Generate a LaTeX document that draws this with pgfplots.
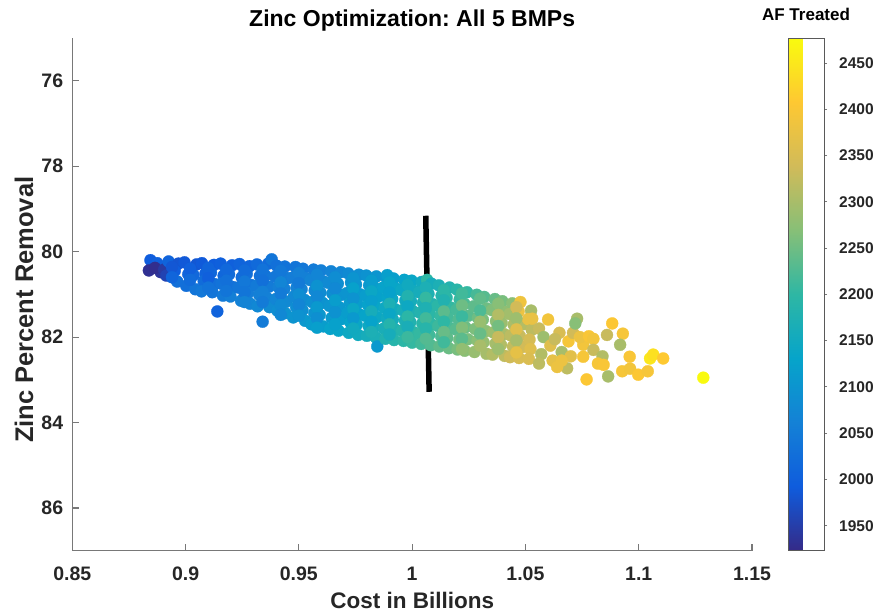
\documentclass[border=0pt]{standalone}
\usepackage{fontspec}
\setmainfont{Liberation Sans}
\usepackage{pgfplots}
\pgfplotsset{compat=1.18}
\frenchspacing

\definecolor{axgray}{RGB}{38,38,38}
\definecolor{lngray}{RGB}{120,120,120}

% parula-like colour map
\pgfplotsset{
  colormap={parula}{
    rgb255(0cm)=(53,42,135);
    rgb255(1cm)=(15,92,221);
    rgb255(2cm)=(20,129,214);
    rgb255(3cm)=(6,164,202);
    rgb255(4cm)=(46,183,164);
    rgb255(5cm)=(135,191,119);
    rgb255(6cm)=(209,187,89);
    rgb255(7cm)=(254,200,50);
    rgb255(8cm)=(249,251,14)
  }
}

% cost (billions), zinc removal (%), AF treated
\pgfplotstableread{
x y c
0.8845 80.20 1995
0.8838 80.44 1932
0.8875 80.27 2002
0.8890 80.48 1938
0.8865 80.38 1928
0.8905 80.42 1945
0.8925 80.23 2008
0.8915 80.56 1958
0.8968 80.28 1982
0.8952 80.45 1996
0.8963 80.70 2030
0.8995 80.25 1988
0.9012 80.53 2010
0.9003 80.80 2028
0.9048 80.30 1985
0.9035 80.55 2015
0.9043 80.88 2040
0.9072 80.27 1990
0.9088 80.51 2005
0.9080 80.69 2022
0.9070 80.93 2045
0.9125 80.31 1995
0.9112 80.49 2012
0.9128 80.76 2028
0.9118 80.95 2040
0.9155 80.28 1999
0.9168 80.56 2013
0.9158 80.75 2035
0.9165 81.03 2048
0.9140 81.40 2005
0.9205 80.32 2000
0.9192 80.53 2022
0.9210 80.83 2030
0.9198 81.05 2058
0.9238 80.29 2008
0.9248 80.60 2025
0.9232 80.84 2040
0.9245 81.15 2062
0.9282 80.34 2010
0.9270 80.52 2028
0.9290 80.78 2035
0.9276 80.97 2055
0.9285 81.22 2070
0.9315 80.30 2018
0.9328 80.57 2030
0.9312 80.80 2048
0.9325 81.01 2060
0.9318 81.28 2075
0.9340 81.64 2050
0.9365 80.28 2020
0.9352 80.56 2040
0.9368 80.82 2050
0.9358 81.08 2062
0.9370 81.30 2082
0.9380 80.18 2040
0.9402 80.33 2030
0.9395 80.59 2042
0.9410 80.83 2058
0.9398 81.11 2070
0.9405 81.38 2088
0.9438 80.35 2035
0.9450 80.62 2050
0.9436 80.87 2060
0.9445 81.17 2078
0.9440 81.44 2095
0.9485 80.36 2040
0.9472 80.61 2055
0.9490 80.84 2062
0.9478 81.05 2075
0.9488 81.30 2085
0.9475 81.54 2100
0.9518 80.40 2045
0.9530 80.62 2060
0.9512 80.88 2068
0.9525 81.13 2082
0.9516 81.37 2090
0.9528 81.62 2108
0.9565 80.42 2050
0.9552 80.67 2068
0.9570 80.91 2075
0.9558 81.18 2090
0.9568 81.44 2098
0.9555 81.70 2115
0.9598 80.44 2058
0.9610 80.70 2070
0.9595 80.96 2082
0.9605 81.20 2095
0.9592 81.48 2105
0.9608 81.75 2118
0.9642 80.46 2065
0.9630 80.73 2080
0.9648 80.98 2088
0.9635 81.27 2102
0.9645 81.55 2112
0.9638 81.81 2128
0.9685 80.48 2072
0.9672 80.75 2088
0.9690 81.01 2098
0.9678 81.30 2108
0.9688 81.58 2120
0.9675 81.85 2135
0.9718 80.51 2080
0.9730 80.72 2095
0.9712 80.97 2100
0.9725 81.20 2112
0.9715 81.43 2118
0.9728 81.66 2130
0.9720 81.90 2145
0.9765 80.54 2088
0.9752 80.77 2100
0.9770 81.00 2110
0.9758 81.22 2118
0.9768 81.47 2125
0.9755 81.71 2138
0.9762 81.95 2152
0.9798 80.56 2095
0.9810 80.79 2108
0.9795 81.03 2118
0.9805 81.25 2126
0.9792 81.50 2132
0.9808 81.74 2145
0.9800 81.97 2160
0.9842 80.58 2102
0.9830 80.82 2118
0.9848 81.06 2125
0.9835 81.28 2135
0.9845 81.53 2142
0.9832 81.77 2155
0.9840 82.01 2168
0.9846 82.22 2110
0.9885 80.60 2110
0.9872 80.84 2128
0.9890 81.08 2132
0.9878 81.32 2145
0.9888 81.56 2150
0.9875 81.80 2165
0.9882 82.04 2178
0.9890 80.55 2120
0.9918 80.63 2120
0.9930 80.87 2135
0.9912 81.11 2142
0.9925 81.35 2152
0.9915 81.59 2160
0.9928 81.83 2175
0.9920 82.07 2188
0.9965 80.66 2128
0.9952 80.90 2142
0.9970 81.14 2150
0.9958 81.37 2162
0.9968 81.61 2170
0.9955 81.85 2185
0.9962 82.09 2196
0.9998 80.68 2138
1.0010 80.92 2150
0.9995 81.16 2160
1.0005 81.40 2172
0.9992 81.65 2180
1.0008 81.89 2195
1.0000 82.13 2205
1.0042 80.71 2150
1.0030 80.95 2160
1.0048 81.19 2172
1.0035 81.43 2182
1.0045 81.68 2192
1.0032 81.92 2205
1.0040 82.16 2215
1.0066 80.66 2200
1.0085 80.75 2160
1.0072 80.99 2175
1.0090 81.23 2182
1.0078 81.47 2195
1.0088 81.71 2200
1.0075 81.95 2215
1.0082 82.19 2228
1.0118 80.79 2170
1.0130 81.03 2185
1.0112 81.27 2195
1.0125 81.50 2205
1.0115 81.74 2212
1.0128 81.98 2225
1.0120 82.22 2238
1.0165 80.84 2182
1.0152 81.08 2195
1.0170 81.31 2205
1.0158 81.55 2218
1.0168 81.79 2222
1.0155 82.02 2238
1.0162 82.26 2248
1.0198 80.89 2192
1.0210 81.12 2208
1.0195 81.36 2218
1.0205 81.59 2228
1.0192 81.82 2232
1.0208 82.06 2250
1.0200 82.29 2258
1.0242 80.95 2205
1.0230 81.22 2225
1.0248 81.50 2235
1.0235 81.77 2248
1.0245 82.05 2260
1.0232 82.32 2272
1.0285 81.01 2220
1.0272 81.28 2238
1.0290 81.55 2250
1.0278 81.81 2262
1.0288 82.08 2272
1.0275 82.35 2285
1.0318 81.06 2232
1.0330 81.33 2250
1.0312 81.59 2262
1.0325 81.86 2275
1.0315 82.12 2285
1.0328 82.39 2298
1.0365 81.11 2245
1.0352 81.37 2265
1.0370 81.63 2275
1.0358 81.89 2290
1.0368 82.15 2298
1.0355 82.41 2310
1.0398 81.16 2258
1.0410 81.41 2278
1.0395 81.67 2288
1.0405 81.93 2302
1.0392 82.18 2310
1.0408 82.44 2322
1.0442 81.21 2272
1.0430 81.46 2295
1.0448 81.71 2302
1.0435 81.96 2318
1.0445 82.22 2325
1.0432 82.47 2338
1.0478 81.18 2385
1.0470 81.40 2380
1.0490 81.70 2312
1.0475 81.97 2330
1.0488 82.23 2340
1.0472 82.49 2350
1.0525 81.38 2300
1.0512 81.58 2375
1.0528 81.83 2320
1.0518 82.06 2345
1.0522 82.28 2360
1.0515 82.51 2352
0.8940 80.36 1985
0.8940 80.60 2010
0.9020 80.40 2000
0.9020 80.66 2020
0.9100 80.38 2008
0.9100 80.62 2000
0.9100 80.84 2035
0.9180 80.42 2015
0.9180 80.68 2030
0.9180 80.92 2040
0.9260 80.44 2020
0.9260 80.70 2045
0.9260 80.95 2040
0.9260 81.18 2065
0.9340 80.42 2035
0.9340 80.68 2030
0.9340 80.94 2060
0.9340 81.18 2050
0.9420 80.45 2045
0.9420 80.72 2070
0.9420 80.98 2050
0.9420 81.25 2080
0.9420 81.48 2075
0.9500 80.50 2060
0.9500 80.74 2048
0.9500 81.00 2085
0.9500 81.24 2070
0.9500 81.50 2095
0.9580 80.54 2070
0.9580 80.80 2095
0.9580 81.05 2075
0.9580 81.30 2110
0.9580 81.56 2090
0.9580 81.78 2120
0.9660 80.60 2085
0.9660 80.86 2075
0.9660 81.14 2118
0.9660 81.42 2095
0.9660 81.70 2125
0.9740 80.62 2100
0.9740 80.86 2125
0.9740 81.10 2098
0.9740 81.34 2140
0.9740 81.56 2110
0.9740 81.80 2150
0.9820 80.68 2115
0.9820 80.93 2140
0.9820 81.16 2120
0.9820 81.40 2160
0.9820 81.64 2128
0.9820 81.88 2170
0.9900 80.72 2135
0.9900 80.96 2125
0.9900 81.22 2170
0.9900 81.46 2140
0.9900 81.70 2185
0.9900 81.94 2160
0.9980 80.78 2150
0.9980 81.04 2180
0.9980 81.28 2145
0.9980 81.52 2195
0.9980 81.76 2165
0.9980 82.00 2210
1.0060 80.84 2170
1.0060 81.08 2205
1.0060 81.32 2175
1.0060 81.56 2215
1.0060 81.80 2190
1.0060 82.04 2230
1.0140 80.90 2195
1.0140 81.14 2180
1.0140 81.40 2235
1.0140 81.64 2200
1.0140 81.88 2245
1.0140 82.12 2215
1.0220 80.98 2215
1.0220 81.26 2250
1.0220 81.52 2210
1.0220 81.78 2265
1.0220 82.04 2235
1.0220 82.28 2280
1.0300 81.10 2240
1.0300 81.38 2225
1.0300 81.64 2285
1.0300 81.92 2245
1.0300 82.20 2300
1.0380 81.22 2270
1.0380 81.48 2310
1.0380 81.74 2255
1.0380 82.00 2330
1.0380 82.28 2290
1.0460 81.30 2340
1.0460 81.56 2290
1.0460 81.82 2360
1.0460 82.08 2300
1.0460 82.36 2370
1.0530 81.57 2375
1.0600 81.59 2390
1.0560 81.80 2330
1.0580 82.00 2290
1.0610 82.20 2360
1.0570 82.40 2310
1.0620 82.55 2370
1.0560 82.62 2320
1.0650 81.90 2350
1.0630 82.05 2330
1.0684 82.73 2320
1.0640 82.70 2380
1.0660 82.35 2300
1.0690 82.10 2395
1.0700 82.45 2365
1.0660 82.55 2380
1.0710 81.90 2340
1.0728 81.57 2300
1.0720 81.68 2270
1.0755 82.18 2390
1.0740 82.00 2380
1.0780 81.98 2400
1.0800 82.04 2390
1.0800 82.30 2330
1.0755 82.46 2395
1.0840 82.45 2310
1.0770 82.99 2405
1.0820 82.62 2395
1.0845 82.65 2400
1.0860 81.95 2330
1.0883 81.68 2405
1.0930 81.92 2395
1.0918 82.18 2300
1.0865 82.92 2300
1.0927 82.80 2395
1.0962 82.74 2390
1.0960 82.46 2400
1.0998 82.88 2405
1.1040 82.80 2395
1.1050 82.50 2450
1.1064 82.41 2440
1.1108 82.50 2410
1.1285 82.95 2476
}\zincdata

\begin{document}
\begin{tikzpicture}
\begin{axis}[
  name=main,
  scale only axis,
  width=679.7pt, height=512.7pt,
  xmin=0.85, xmax=1.15,
  ymin=75, ymax=87,
  y dir=reverse,
  axis x line*=bottom,
  axis y line*=left,
  axis line style={line width=1.1pt, color=lngray},
  every tick/.style={line width=1.1pt, color=lngray},
  tick align=inside,
  major tick length=6.5pt,
  xtick={0.85,0.9,0.95,1,1.05,1.1,1.15},
  xticklabels={0.85,0.9,0.95,1,1.05,1.1,1.15},
  ytick={76,78,80,82,84,86},
  yticklabels={76,78,80,82,84,86},
  xticklabel style={font=\bfseries\fontsize{19.5}{19.5}\selectfont, text=axgray,
    inner sep=0pt, anchor=base, yshift=-30pt},
  yticklabel style={font=\bfseries\fontsize{19.5}{19.5}\selectfont, text=axgray,
    inner sep=0pt, anchor=east, xshift=-9pt},
  title={Zinc Optimization: All 5 BMPs},
  title style={font=\bfseries\fontsize{23}{23}\selectfont, text=black,
    at={(axis description cs:0.5,1)}, anchor=base, yshift=6pt, inner sep=0pt},
  xlabel={Cost in Billions},
  xlabel style={font=\bfseries\fontsize{22.5}{22.5}\selectfont, text=axgray,
    at={(axis description cs:0.5,0)}, anchor=base, yshift=-58pt, inner sep=0pt},
  ylabel={Zinc Percent Removal},
  ylabel style={font=\bfseries\fontsize{25.5}{25.5}\selectfont, text=axgray,
    at={(axis description cs:-0.0575,0.47)}, anchor=base, rotate=0, inner sep=0pt},
  colormap name=parula,
  point meta min=1923, point meta max=2477,
  colorbar right,
  colorbar style={
    scale only axis,
    at={(parent axis.north east)}, anchor=north west, xshift=27.5pt,
    width=36pt,
    ytick={1950,2000,2050,2100,2150,2200,2250,2300,2350,2400,2450},
    yticklabels={1950,2000,2050,2100,2150,2200,2250,2300,2350,2400,2450},
    ytick pos=right,
    yticklabel pos=right,
    tick align=outside,
    major tick length=3pt,
    every tick/.style={line width=0.9pt, color=lngray},
    axis line style={line width=0.8pt, color=black!65},
    yticklabel style={font=\bfseries\fontsize{15.5}{15.5}\selectfont, text=axgray,
      inner sep=0pt, anchor=west, xshift=12pt},
    title={AF Treated},
    title style={font=\bfseries\fontsize{17}{17}\selectfont, text=black,
      at={(axis description cs:0.5,1)}, anchor=base, yshift=11pt, inner sep=0pt},
  },
]
\addplot[
  scatter, only marks, mark=*, mark size=6pt,
  scatter src=explicit,
  scatter/use mapped color={draw=mapped color, fill=mapped color},
  mark options={line width=0.3pt},
] table[x=x, y=y, meta=c] {\zincdata};

% cost threshold marker
\addplot[black, line width=5.5pt, line cap=butt] coordinates {(1.0060,79.16) (1.0075,83.28)};
\end{axis}
\pgfresetboundingbox
\path ([xshift=-72.3pt,yshift=-63.3pt]main.south west)
  rectangle ([xshift=126pt,yshift=38pt]main.north east);
\end{tikzpicture}
\end{document}
